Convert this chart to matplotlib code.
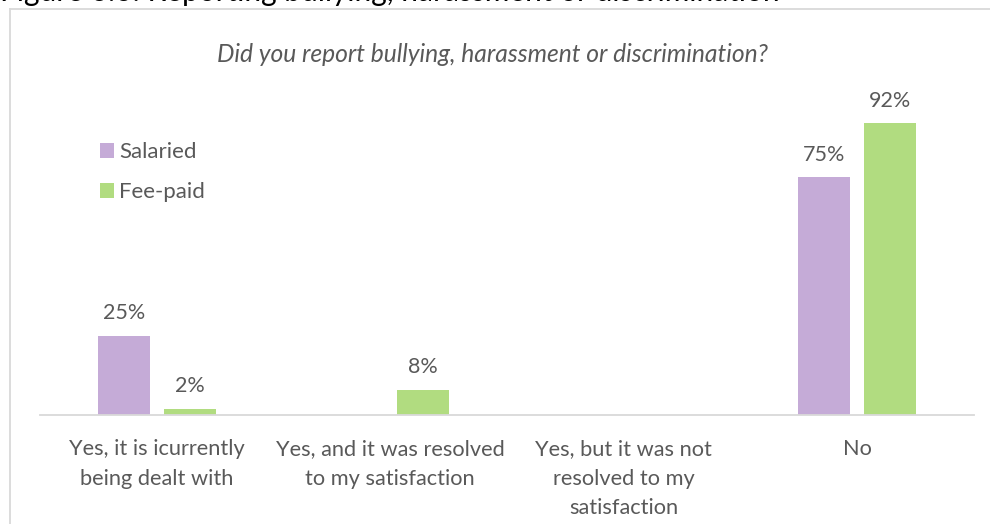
import matplotlib.pyplot as plt
import numpy as np
from matplotlib.lines import Line2D

categories = [
    "Yes, it is icurrently\nbeing dealt with",
    "Yes, and it was resolved\nto my satisfaction",
    "Yes, but it was not\nresolved to my\nsatisfaction",
    "No",
]
salaried = [25, 0, 0, 75]
fee_paid = [2, 8, 0, 92]
series_names = ["Salaried", "Fee-paid"]

purple = "#C5ABD7"
green = "#B1DC80"
text_grey = "#595959"
line_grey = "#D9D9D9"
font = ["Lato", "DejaVu Sans"]

W, H = 990, 524
fig = plt.figure(figsize=(W / 100, H / 100), dpi=100)

# plot area in pixel terms: baseline at y=415, x from 40 to 974
ax = fig.add_axes([40 / W, (H - 415) / H, 934 / W, 317 / H])
x = np.arange(len(categories))
bw = 0.223
off = 0.1415
b1 = ax.bar(x - off, salaried, bw, color=purple, label=series_names[0])
b2 = ax.bar(x + off, fee_paid, bw, color=green, label=series_names[1])
ax.set_xlim(-0.5, len(categories) - 0.5)
ax.set_ylim(0, 100)

for bars, vals in ((b1, salaried), (b2, fee_paid)):
    for rect, v in zip(bars, vals):
        if v > 0:
            ax.annotate(f"{v}%", (rect.get_x() + rect.get_width() / 2, v),
                        xytext=(0, 9), textcoords="offset points",
                        ha="center", va="bottom", fontsize=15.5,
                        color=text_grey, family=font)

for s in ("top", "right", "left"):
    ax.spines[s].set_visible(False)
ax.spines["bottom"].set_color(line_grey)
ax.spines["bottom"].set_linewidth(1.3)
ax.set_yticks([])
ax.set_xticks(x)
ax.set_xticklabels(categories, fontsize=15.7, color=text_grey, family=font,
                   linespacing=1.62)
ax.tick_params(axis="x", length=0, pad=17)

ax.legend(handles=[b1, b2], loc="upper left",
          bbox_to_anchor=(80 / W, 1 - 122 / H), bbox_transform=fig.transFigure,
          frameon=False, handlelength=0.65, handleheight=0.65,
          handletextpad=0.2, labelspacing=0.9,
          prop={"family": font, "size": 16}, labelcolor=text_grey)

fig.text(492 / W, 1 - 55 / H,
         "Did you report bullying, harassment or discrimination?",
         ha="center", va="center", fontsize=17.7, style="italic",
         color=text_grey, family=font)

# caption above the chart frame, cut off by the top edge as in the source
fig.text(0, 1 - 1.0 / H,
         "Figure 6.6: Reporting bullying, harassment or discrimination",
         ha="left", va="baseline", fontsize=21.5, color="black", family=font)

# chart frame
fig.add_artist(Line2D([10 / W, 1.0], [1 - 9 / H, 1 - 9 / H],
                      transform=fig.transFigure, color=line_grey, lw=1.3))
fig.add_artist(Line2D([10 / W, 10 / W], [0, 1 - 9 / H],
                      transform=fig.transFigure, color=line_grey, lw=1.3))

fig.savefig("out.png", dpi=100)
